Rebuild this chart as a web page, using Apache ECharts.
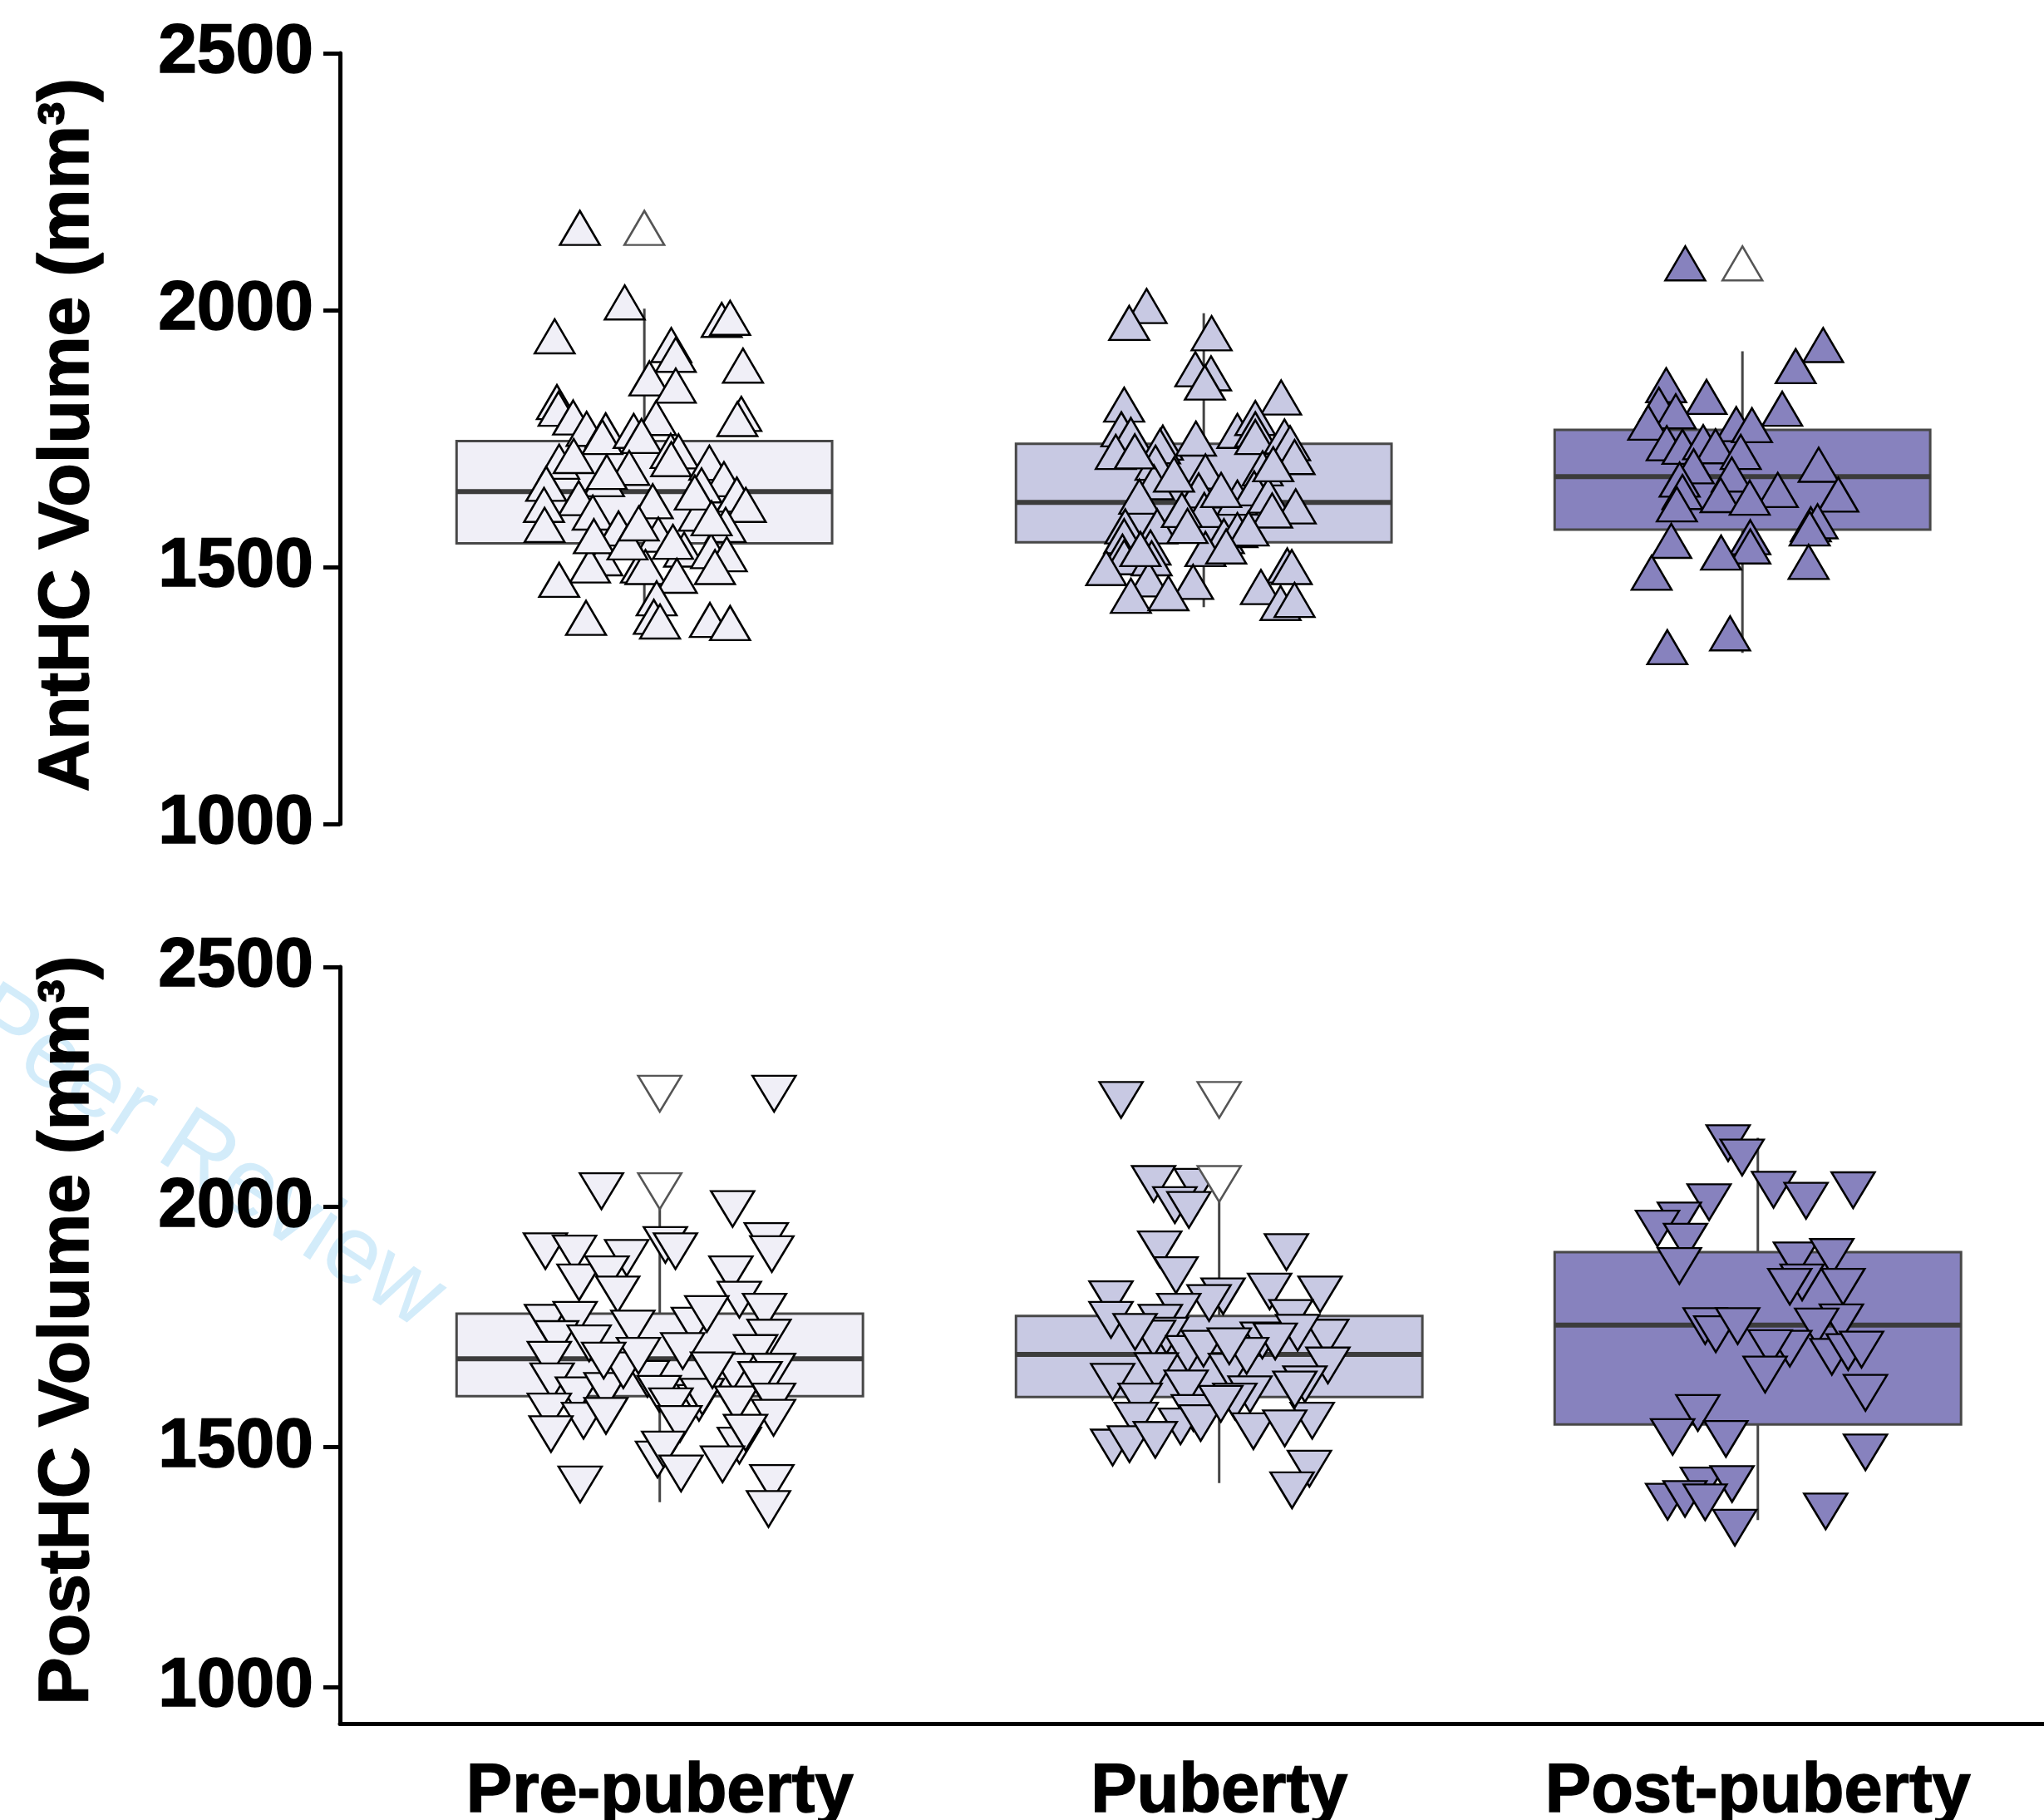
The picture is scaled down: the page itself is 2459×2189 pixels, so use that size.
<!DOCTYPE html>
<html>
<head>
<meta charset="utf-8">
<title>Hippocampal volumes by pubertal stage</title>
<script src="https://cdn.jsdelivr.net/npm/echarts@6/dist/echarts.min.js"></script>
<style>
  html, body { margin: 0; padding: 0; background: #ffffff; }
  #chart { width: 2459px; height: 2189px; }
</style>
</head>
<body>
<div id="chart"></div>
<script>
// ---------- data ----------
const groups = ['Pre-puberty', 'Puberty', 'Post-puberty'];
const yTicks = [1000, 1500, 2000, 2500];

// Anterior hippocampus (mm³): box statistics per group
const antQ1 = [1546, 1548, 1573];
const antMedian = [1647, 1626, 1676];
const antQ3 = [1745, 1740, 1767];
const antWhiskerLow = [1424, 1422, 1333];
const antWhiskerHigh = [2003, 1994, 1920];

// Posterior hippocampus (mm³): box statistics per group
const postQ1 = [1606, 1604, 1547];
const postMedian = [1684, 1693, 1754];
const postQ3 = [1778, 1773, 1906];
const postWhiskerLow = [1385, 1425, 1348];
const postWhiskerHigh = [2006, 2012, 2144];

// Individual subjects: volumes and horizontal jitter (in group-width units)
const antPreValues = [2160, 2015, 1949, 1981, 1985, 1932, 1913, 1892, 1867, 1853, 1821, 1808, 1791, 1790, 1798, 1788, 1769, 1766, 1753, 1765, 1755, 1726, 1725, 1710, 1705, 1716, 1693, 1703, 1671, 1662, 1671, 1685, 1659, 1641, 1621, 1634, 1628, 1604, 1621, 1582, 1606, 1575, 1563, 1582, 1534, 1549, 1531, 1525, 1517, 1503, 1503, 1500, 1483, 1500, 1475, 1439, 1401, 1403, 1394, 1397, 1391, 1560, 1548, 1585, 1645, 1595];
const antPreJitter = [-0.115, -0.035, -0.160, 0.138, 0.153, 0.048, 0.056, 0.176, 0.009, 0.056, -0.156, -0.153, -0.127, 0.021, 0.173, 0.166, -0.103, -0.069, -0.075, -0.019, -0.005, 0.047, 0.061, 0.048, -0.152, -0.126, -0.027, 0.116, 0.142, -0.175, -0.072, -0.067, 0.102, 0.165, 0.181, -0.117, 0.015, 0.097, -0.179, -0.178, -0.092, -0.046, 0.025, 0.145, 0.071, 0.051, 0.119, 0.147, -0.075, -0.097, -0.006, 0.002, 0.058, 0.126, -0.152, 0.022, -0.104, 0.017, 0.028, 0.117, 0.153, -0.090, -0.030, -0.010, 0.090, 0.120];

const antPubValues = [2008, 1975, 1955, 1885, 1877, 1859, 1830, 1816, 1768, 1757, 1724, 1742, 1735, 1750, 1765, 1790, 1768, 1753, 1754, 1741, 1714, 1703, 1665, 1686, 1692, 1637, 1649, 1635, 1653, 1639, 1618, 1610, 1579, 1579, 1611, 1611, 1560, 1572, 1560, 1530, 1519, 1538, 1535, 1498, 1517, 1476, 1471, 1444, 1449, 1503, 1500, 1461, 1430, 1436, 1680, 1580, 1650, 1535, 1575, 1540, 1700, 1725];
const antPubJitter = [-0.102, -0.133, 0.014, -0.015, 0.013, 0.002, 0.138, -0.142, -0.147, -0.130, -0.157, -0.073, -0.078, -0.014, 0.060, 0.092, 0.092, 0.092, 0.144, 0.154, 0.162, -0.086, -0.089, 0.003, 0.105, -0.115, -0.009, 0.060, 0.090, 0.115, 0.164, 0.122, -0.140, -0.083, 0.001, -0.039, 0.036, 0.060, -0.142, -0.145, -0.142, -0.095, 0.003, -0.174, -0.093, -0.098, -0.019, -0.130, -0.063, 0.149, 0.157, 0.102, 0.137, 0.162, -0.053, -0.029, 0.031, -0.113, 0.080, 0.040, 0.124, -0.123];

const antPostValues = [2091, 1932, 1891, 1854, 1831, 1808, 1816, 1803, 1781, 1778, 1776, 1741, 1734, 1743, 1735, 1724, 1696, 1670, 1680, 1699, 1650, 1641, 1646, 1640, 1635, 1622, 1583, 1589, 1575, 1551, 1558, 1540, 1528, 1489, 1510, 1371, 1344];
const antPostJitter = [-0.102, 0.144, 0.095, -0.136, -0.064, 0.071, -0.149, -0.119, -0.168, -0.011, 0.017, -0.135, -0.107, -0.070, -0.048, -0.003, -0.087, -0.112, -0.019, 0.136, 0.063, 0.171, -0.107, -0.039, 0.013, -0.117, 0.122, 0.134, 0.120, -0.127, 0.014, 0.014, -0.038, -0.162, 0.118, -0.022, -0.134];

const postPreValues = [2236, 2033, 1996, 1908, 1903, 1894, 1921, 1908, 1929, 1902, 1843, 1860, 1818, 1860, 1807, 1782, 1759, 1765, 1747, 1753, 1777, 1728, 1725, 1716, 1682, 1696, 1657, 1657, 1637, 1608, 1617, 1642, 1611, 1592, 1605, 1589, 1640, 1595, 1574, 1555, 1565, 1527, 1585, 1548, 1561, 1503, 1530, 1474, 1495, 1445, 1464, 1422, 1425, 1371, 1660, 1700, 1660, 1690, 1680];
const postPreJitter = [0.204, -0.104, 0.130, -0.204, -0.152, -0.059, 0.010, 0.028, 0.190, 0.200, -0.144, -0.094, -0.075, 0.127, 0.142, 0.187, -0.202, -0.151, -0.048, 0.060, 0.084, 0.195, -0.184, -0.126, -0.197, 0.171, 0.131, 0.203, -0.192, -0.147, -0.096, -0.022, -0.001, 0.070, 0.076, 0.137, 0.179, 0.203, -0.197, -0.136, -0.096, -0.194, 0.020, 0.036, 0.203, 0.142, 0.153, -0.004, 0.007, 0.038, 0.112, -0.142, 0.200, 0.194, -0.065, 0.041, 0.094, -0.038, -0.100];

const postPubValues = [2223, 2048, 2042, 2004, 1994, 1912, 1858, 1906, 1808, 1765, 1824, 1818, 1814, 1800, 1782, 1759, 1769, 1722, 1732, 1726, 1694, 1705, 1728, 1738, 1670, 1657, 1658, 1636, 1622, 1631, 1610, 1595, 1595, 1571, 1555, 1555, 1533, 1539, 1543, 1499, 1506, 1515, 1455, 1410, 1550, 1590, 1720, 1690, 1620, 1740, 1710];
const postPubJitter = [-0.175, -0.117, -0.041, -0.079, -0.054, -0.106, -0.077, 0.120, -0.193, -0.193, 0.090, 0.180, 0.007, -0.018, -0.072, -0.105, 0.128, 0.077, -0.094, -0.117, -0.056, -0.028, 0.192, 0.140, 0.194, 0.020, -0.112, -0.190, -0.059, 0.153, 0.055, 0.028, -0.141, -0.046, 0.166, -0.148, 0.061, 0.117, -0.069, -0.190, -0.160, -0.114, 0.161, 0.130, -0.033, 0.003, 0.100, 0.049, 0.135, -0.150, 0.018];

const postPostValues = [2133, 2103, 2036, 2013, 2035, 2010, 1972, 1955, 1928, 1877, 1889, 1896, 1843, 1834, 1834, 1752, 1735, 1752, 1760, 1751, 1705, 1706, 1688, 1698, 1703, 1651, 1613, 1571, 1521, 1517, 1489, 1420, 1423, 1386, 1392, 1385, 1332, 1366];
const postPostJitter = [-0.053, -0.028, 0.028, 0.086, 0.170, -0.087, -0.140, -0.179, -0.129, -0.140, 0.067, 0.132, 0.079, 0.057, 0.152, -0.094, -0.075, -0.036, 0.149, 0.105, 0.057, 0.022, 0.132, 0.161, 0.185, 0.013, 0.192, -0.107, -0.152, -0.057, 0.192, -0.099, -0.046, -0.161, -0.130, -0.094, -0.041, 0.121];

// Subjects drawn with open symbols, on the group centre line
const antOpenValues = [[2160], [], [2091]];
const postOpenValues = [[2236, 2033], [2223, 2048], []];

// ---------- layout ----------
const groupColors = ['#F0EFF7', '#C8C9E3', '#8782BE'];
const xMax = 3.04;                       // x extent in group units
const groupLeft = [0.208, 1.206, 2.167]; // left edge of each box
const boxWidth = [0.670, 0.725];         // top panel, bottom panel
const FONT = '"Liberation Sans", Arial, Helvetica, sans-serif';

function centers(panel) {
  return groupLeft.map(l => l + boxWidth[panel] / 2);
}

function boxData(panel, q1, med, q3, lo, hi) {
  return groupLeft.map((l, i) => [l, l + boxWidth[panel], q1[i], med[i], q3[i], lo[i], hi[i]]);
}

function renderBox(params, api) {
  const l = api.value(0), r = api.value(1), c = (l + r) / 2;
  const lo = api.coord([c, api.value(5)]);
  const hi = api.coord([c, api.value(6)]);
  const q1 = api.coord([l, api.value(2)]);
  const q3 = api.coord([r, api.value(4)]);
  const mL = api.coord([l, api.value(3)]);
  const mR = api.coord([r, api.value(3)]);
  return {
    type: 'group',
    children: [
      { type: 'line', shape: { x1: lo[0], y1: lo[1], x2: hi[0], y2: hi[1] },
        style: { stroke: '#454545', lineWidth: 3 } },
      { type: 'rect', shape: { x: q1[0], y: q3[1], width: q3[0] - q1[0], height: q1[1] - q3[1] },
        style: { fill: groupColors[params.dataIndex], stroke: '#484848', lineWidth: 3 } },
      { type: 'line', shape: { x1: mL[0], y1: mL[1], x2: mR[0], y2: mR[1] },
        style: { stroke: '#3c3c3c', lineWidth: 6 } }
    ]
  };
}

function pointSeries(panel, gi, values, jitter) {
  const c = centers(panel)[gi];
  return {
    type: 'scatter', xAxisIndex: panel, yAxisIndex: panel,
    symbol: 'triangle',
    symbolSize: panel === 0 ? [48, 41] : [52, 43],
    symbolRotate: panel === 0 ? 0 : 180,
    itemStyle: { color: groupColors[gi], borderColor: '#000000', borderWidth: 2.5, opacity: 1 },
    data: values.map((v, i) => [c + jitter[i], v]),
    z: 3, silent: true, animation: false
  };
}

function openSeries(panel, openValues) {
  const cs = centers(panel);
  const data = [];
  openValues.forEach((vals, gi) => vals.forEach(v => data.push([cs[gi], v])));
  return {
    type: 'scatter', xAxisIndex: panel, yAxisIndex: panel,
    symbol: 'triangle',
    symbolSize: panel === 0 ? [48, 41] : [52, 43],
    symbolRotate: panel === 0 ? 0 : 180,
    itemStyle: { color: '#ffffff', borderColor: '#555555', borderWidth: 2.5, opacity: 1 },
    data, z: 4, silent: true, animation: false
  };
}

// heavy black lettering used by every axis text
const heavyText = { color: '#000', fontFamily: FONT, fontWeight: 'bold', textBorderColor: '#000', textBorderWidth: 1.5 };

const yAxisCommon = {
  type: 'value', max: 2500,
  axisLine: { show: true, lineStyle: { color: '#000', width: 5 } },
  axisTick: { show: true, inside: false, length: 20, lineStyle: { color: '#000', width: 5 }, customValues: yTicks },
  axisLabel: Object.assign({ customValues: yTicks, margin: 32, fontSize: 84, formatter: v => String(v) }, heavyText),
  splitLine: { show: false }
};

const bottomCenters = centers(1);

const option = {
  backgroundColor: '#ffffff',
  animation: false,
  grid: [
    { left: 409, top: 64, width: 2050, height: 927, containLabel: false, outerBoundsMode: 'none' },
    { left: 409, top: 1163, width: 2050, height: 910, containLabel: false, outerBoundsMode: 'none' }
  ],
  xAxis: [
    { type: 'value', gridIndex: 0, min: 0, max: xMax, show: false, splitLine: { show: false } },
    { type: 'value', gridIndex: 1, min: 0, max: xMax,
      axisLine: { show: true, onZero: false, lineStyle: { color: '#000', width: 5 } },
      axisTick: { show: false },
      splitLine: { show: false },
      axisLabel: Object.assign({
        customValues: bottomCenters,
        formatter: v => groups[bottomCenters.findIndex(c => Math.abs(c - v) < 1e-6)] || '',
        margin: 42, fontSize: 83
      }, heavyText) }
  ],
  yAxis: [
    Object.assign({}, yAxisCommon, { gridIndex: 0, min: 1000 }),
    Object.assign({}, yAxisCommon, { gridIndex: 1, min: 924 })
  ],
  graphic: [
    { type: 'text', x: -30, y: 1215, rotation: -33 * Math.PI / 180, z: -10, silent: true,
      style: { text: 'Peer Review', fill: '#d3ecfa', font: '116px ' + FONT, textAlign: 'left', textVerticalAlign: 'middle' } },
    { type: 'text', x: 82, y: 523, rotation: Math.PI / 2, silent: true,
      style: { text: 'AntHC Volume (mm³)', fill: '#000', stroke: '#000', lineWidth: 1.5, font: 'bold 86px ' + FONT, textAlign: 'center', textVerticalAlign: 'middle' } },
    { type: 'text', x: 82, y: 1600, rotation: Math.PI / 2, silent: true,
      style: { text: 'PostHC Volume (mm³)', fill: '#000', stroke: '#000', lineWidth: 1.5, font: 'bold 86px ' + FONT, textAlign: 'center', textVerticalAlign: 'middle' } }
  ],
  series: [
    { type: 'custom', xAxisIndex: 0, yAxisIndex: 0, renderItem: renderBox, clip: false, z: 1, silent: true,
      data: boxData(0, antQ1, antMedian, antQ3, antWhiskerLow, antWhiskerHigh) },
    { type: 'custom', xAxisIndex: 1, yAxisIndex: 1, renderItem: renderBox, clip: false, z: 1, silent: true,
      data: boxData(1, postQ1, postMedian, postQ3, postWhiskerLow, postWhiskerHigh) },
    pointSeries(0, 0, antPreValues, antPreJitter),
    pointSeries(0, 1, antPubValues, antPubJitter),
    pointSeries(0, 2, antPostValues, antPostJitter),
    openSeries(0, antOpenValues),
    pointSeries(1, 0, postPreValues, postPreJitter),
    pointSeries(1, 1, postPubValues, postPubJitter),
    pointSeries(1, 2, postPostValues, postPostJitter),
    openSeries(1, postOpenValues)
  ]
};

const chart = echarts.init(document.getElementById('chart'), null, { renderer: 'canvas', width: 2459, height: 2189 });
chart.setOption(option);
</script>
</body>
</html>
